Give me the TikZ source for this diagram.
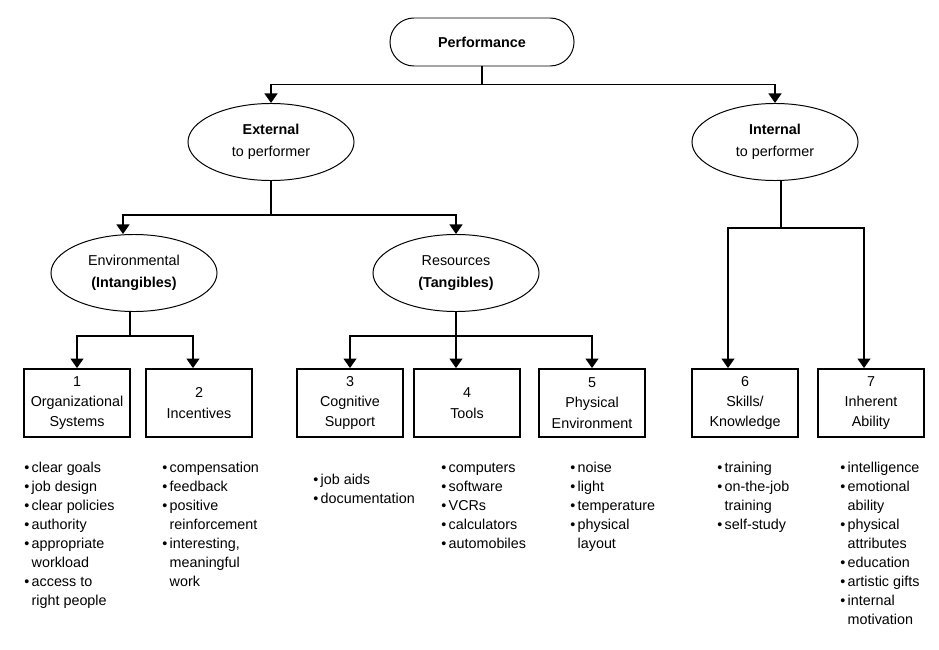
\documentclass[tikz,border=0pt]{standalone}
\usepackage{fontspec}
\setmainfont{Liberation Sans}
\usetikzlibrary{shapes.geometric}
\usetikzlibrary{arrows.meta}

\newcommand{\listbul}{\textbullet\,}
\newcommand{\listind}{\hphantom{\textbullet\,}}

\begin{document}
\begin{tikzpicture}[x=0.025cm,y=-0.025cm,
  oval/.style={ellipse,draw,line width=0.7pt,minimum width=4.15cm,minimum height=1.925cm,align=center,font=\fontsize{10.2pt}{15.6pt}\selectfont},
  box/.style={rectangle,draw,line width=1.3pt,minimum width=2.65cm,minimum height=1.7cm,align=center,font=\fontsize{10.2pt}{14.5pt}\selectfont},
  bullets/.style={anchor=north west,inner sep=0pt,align=left,font=\fontsize{10.2pt}{13.5pt}\selectfont},
  arr/.style={line width=1.1pt,-{Triangle[width=9.2pt,length=6.8pt]}}]
\useasboundingbox (0,0) rectangle (939,650);
\node[draw,line width=0.7pt,rounded corners=0.6cm,minimum width=4.6cm,minimum height=1.2cm,font=\fontsize{10.2pt}{14pt}\selectfont\bfseries] (perf) at (482,42) {Performance};
\node[oval] (ext) at (271,142) {\textbf{External}\\to performer};
\node[oval] (int) at (775,142) {\textbf{Internal}\\to performer};
\node[oval] (env) at (134,273) {Environmental\\\textbf{(Intangibles)}};
\node[oval] (res) at (456,273) {Resources\\\textbf{(Tangibles)}};
\node[box] (b1) at (77,403) {1\\Organizational\\Systems};
\node[box] (b2) at (199,403) {2\\Incentives};
\node[box] (b3) at (350,403) {3\\Cognitive\\Support};
\node[box] (b4) at (467,403) {4\\Tools};
\node[box] (b5) at (592,403) {5\\Physical\\Environment};
\node[box] (b6) at (745,403) {6\\Skills/\\Knowledge};
\node[box] (b7) at (871,403) {7\\Inherent\\Ability};
\draw[arr] (perf.south) -- ++(0,18) -| (ext.north);
\draw[arr] (perf.south) -- ++(0,18) -| (int.north);
\draw[arr] (ext.south) -- ++(0,34) -| ([xshift=-0.275cm]env.north);
\draw[arr] (ext.south) -- ++(0,34) -| (res.north);
\draw[arr] ([xshift=-0.1cm]env.south) -- ++(0,24) -| (b1.north);
\draw[arr] ([xshift=-0.1cm]env.south) -- ++(0,24) -| ([xshift=-0.15cm]b2.north);
\draw[arr] (res.south) -- ++(0,24) -| (b3.north);
\draw[arr] (res.south) -- ([xshift=-0.275cm]b4.north);
\draw[arr] (res.south) -- ++(0,24) -| (b5.north);
\draw[arr] ([xshift=0.15cm]int.south) -- ++(0,47) -| ([xshift=-0.425cm]b6.north);
\draw[arr] ([xshift=0.15cm]int.south) -- ++(0,47) -| ([xshift=-0.175cm]b7.north);
\node[bullets] (l1) at (24,459) {\strut\listbul clear goals\\\listbul job design\\\listbul clear policies\\\listbul authority\\\listbul appropriate\\\listind workload\\\listbul access to\\\listind right people};
\node[bullets] (l2) at (162,459) {\strut\listbul compensation\\\listbul feedback\\\listbul positive\\\listind reinforcement\\\listbul interesting,\\\listind meaningful\\\listind work};
\node[bullets] (l3) at (313,471) {\strut\listbul job aids\\\listbul documentation};
\node[bullets] (l4) at (441,459) {\strut\listbul computers\\\listbul software\\\listbul VCRs\\\listbul calculators\\\listbul automobiles};
\node[bullets] (l5) at (570,459) {\strut\listbul noise\\\listbul light\\\listbul temperature\\\listbul physical\\\listind layout};
\node[bullets] (l6) at (717,459) {\strut\listbul training\\\listbul on-the-job\\\listind training\\\listbul self-study};
\node[bullets] (l7) at (840,459) {\strut\listbul intelligence\\\listbul emotional\\\listind ability\\\listbul physical\\\listind attributes\\\listbul education\\\listbul artistic gifts\\\listbul internal\\\listind motivation};
\end{tikzpicture}
\end{document}
